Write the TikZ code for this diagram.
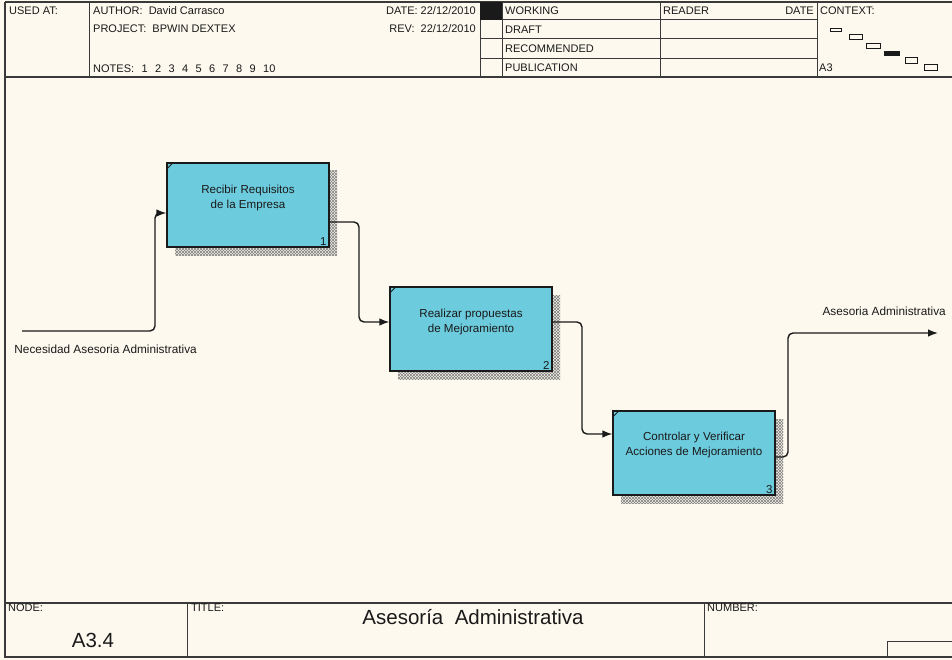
\documentclass[tikz,border=0pt]{standalone}
\usepackage{fontspec}
\setmainfont{Liberation Sans}
\usetikzlibrary{arrows.meta,patterns}

% fine diagonal cross-hatching used for the box shadows
\pgfdeclarepatternformonly{shadowhatch}{\pgfqpoint{-1pt}{-1pt}}{\pgfqpoint{4pt}{4pt}}{\pgfqpoint{3pt}{3pt}}{%
  \pgfsetlinewidth{0.5pt}%
  \pgfpathmoveto{\pgfqpoint{0pt}{0pt}}\pgfpathlineto{\pgfqpoint{3pt}{3pt}}%
  \pgfpathmoveto{\pgfqpoint{0pt}{3pt}}\pgfpathlineto{\pgfqpoint{3pt}{0pt}}%
  \pgfusepath{stroke}}

\definecolor{paper}{HTML}{FDF9EE}
\definecolor{boxfill}{HTML}{6CCBDD}
\definecolor{ink}{HTML}{1A1A1A}
\definecolor{rule}{HTML}{3A3A3A}

\newcommand{\gap}{\hspace{7.4pt}}

\tikzset{
  frame/.style={draw=rule, line width=1.4pt},
  cell/.style={draw=rule, line width=1pt},
  small/.style={font=\fontsize{11}{13}\selectfont, text=ink, inner sep=0pt},
  smallw/.style={small, anchor=west},
  smalle/.style={small, anchor=east},
  flowlabel/.style={small, anchor=east, font=\fontsize{11.8}{13}\selectfont},
  big/.style={font=\fontsize{20.5}{24}\selectfont, text=ink, inner sep=0pt},
  actbox/.style={draw=ink, line width=1.2pt, fill=boxfill, minimum width=162pt, minimum height=84pt, inner sep=0pt},
  acttext/.style={small, align=center, font=\fontsize{11.6}{14.5}\selectfont},
  boxnum/.style={small, anchor=south east, font=\fontsize{11.5}{12}\selectfont},
  flow/.style={draw=ink, line width=1.4pt, rounded corners=5pt, -{Latex[length=10pt,width=7.5pt]}},
  ctxbox/.style={draw=ink, line width=0.9pt, fill=paper},
}

\begin{document}
\begin{tikzpicture}[x=1pt, y=-1pt]
\useasboundingbox[fill=paper] (0,0) rectangle (952,660);

% ---- outer frame, header and footer rules ----
\draw[frame] (5,2) -- (960,2);
\draw[frame] (5,2) -- (5,657) -- (960,657);
\draw[frame] (5,77) -- (960,77);
\draw[frame] (5,603) -- (960,603);

% header columns
\draw[cell] (89,2) -- (89,77);
\draw[cell] (480,2) -- (480,77);
\draw[cell] (502,2) -- (502,77);
\draw[cell] (660,2) -- (660,77);
\draw[cell] (817,2) -- (817,77);
\foreach \yy in {20,39,59} \draw[cell] (480,\yy) -- (817,\yy);
\fill[ink] (480,2) rectangle (502,20);

% footer columns
\draw[cell] (187,603) -- (187,657);
\draw[cell] (704,603) -- (704,657);
\draw[cell] (887,657) -- (887,641) -- (960,641);

% ---- header texts ----
\node[smallw] (usedat) at (9,11) {USED AT:};
\node[smallw] (author) at (93,11) {AUTHOR:\ \ David Carrasco};
\node[smallw] (project) at (93,29) {PROJECT:\ \ BPWIN DEXTEX};
\node[smallw] (notes) at (93,69) {NOTES:\gap 1\gap 2\gap 3\gap 4\gap 5\gap 6\gap 7\gap 8\gap 9\gap 10};
\node[smalle] (date) at (476,11) {DATE: 22/12/2010};
\node[smalle] (rev) at (476,29) {REV:\ \ 22/12/2010};
\node[smallw] (working) at (505,11) {WORKING};
\node[smallw] (draft) at (505,30) {DRAFT};
\node[smallw] (recommended) at (505,49) {RECOMMENDED};
\node[smallw] (publication) at (505,68) {PUBLICATION};
\node[smallw] (reader) at (663,11) {READER};
\node[smalle] (rdate) at (814,11) {DATE};
\node[smallw] (context) at (820,11) {CONTEXT:};
\node[smallw] (ctxnode) at (819,68) {A3};

% context strip of sibling activities
\draw[ctxbox] (830,28) rectangle (841,31);
\draw[ctxbox] (849,34) rectangle (862,39);
\draw[ctxbox] (866,43) rectangle (880,48);
\draw[ctxbox, fill=ink] (884,51) rectangle (899,55);
\draw[ctxbox] (905,57) rectangle (917,63);
\draw[ctxbox] (924,64) rectangle (937,70);

% ---- footer texts ----
\node[smallw] (nodelbl) at (8,608) {NODE:};
\node[smallw] (titlelbl) at (191,608) {TITLE:};
\node[smallw] (numberlbl) at (707,608) {NUMBER:};
\node[big] (nodeid) at (93,640) {A3.4};
\node[big] (title) at (473,617) {Asesoría\ \ Administrativa};

% ---- activity boxes ----
\foreach \n/\cx/\cy in {b1/248/205, b2/471/329, b3/694/453} {
  \fill[pattern=shadowhatch, pattern color=ink!55]
    (\cx-81+8,\cy-42+8) rectangle (\cx+81+8,\cy+42+8);
  \node[actbox] (\n) at (\cx,\cy) {};
  \draw[ink, line width=0.8pt] ([yshift=-7pt]\n.north west) -- ([xshift=7pt]\n.north west);
}
\node[acttext] (t1) at ([yshift=7pt]b1.center) {Recibir Requisitos\\de la Empresa};
\node[acttext] (t2) at ([yshift=7pt]b2.center) {Realizar propuestas\\de Mejoramiento};
\node[acttext] (t3) at ([yshift=8pt]b3.center) {Controlar y Verificar\\Acciones de Mejoramiento};
\node[boxnum] (n1) at ([xshift=-3pt,yshift=2pt]b1.south east) {1};
\node[boxnum] (n2) at ([xshift=-3pt,yshift=2pt]b2.south east) {2};
\node[boxnum] (n3) at ([xshift=-3pt,yshift=2pt]b3.south east) {3};

% ---- boundary arrows and labels ----
\coordinate (inpt) at (22,331);
\coordinate (outpt) at (938,333);
\node[flowlabel] (inlbl) at (197,349) {Necesidad Asesoria Administrativa};
\node[flowlabel] (outlbl) at (946,311) {Asesoria Administrativa};

\draw[flow] (inpt) -- (155,331) -- (155,213) -- ([yshift=-8pt]b1.west);
\draw[flow] ([yshift=-17pt]b1.east) -- (359,222) -- (359,322) -- ([yshift=7pt]b2.west);
\draw[flow] ([yshift=7pt]b2.east) -- (582,322) -- (582,434) -- ([yshift=19pt]b3.west);
\draw[flow] ([yshift=-4pt]b3.east) -- (788,457) -- (788,333) -- (outpt);
\end{tikzpicture}
\end{document}
